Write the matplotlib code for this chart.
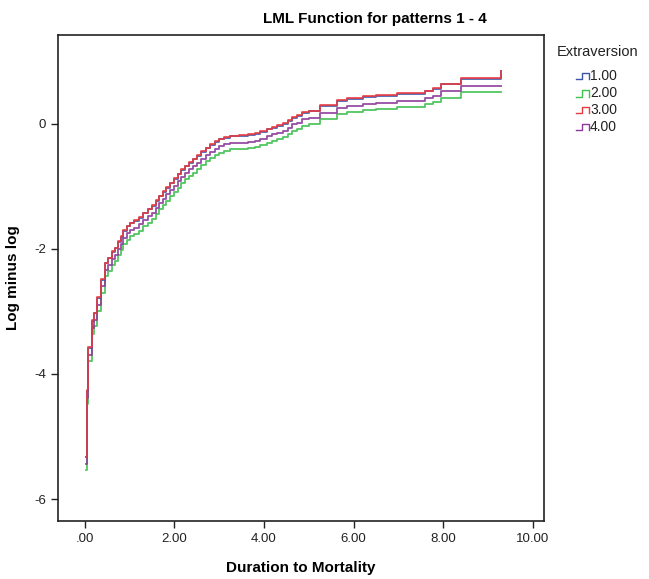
import matplotlib
matplotlib.use("Agg")
import matplotlib.pyplot as plt
from matplotlib.lines import Line2D

plt.rcParams['font.family'] = ['Liberation Sans', 'DejaVu Sans']

# step times (duration to mortality)
times = [0.02, 0.05, 0.08, 0.15, 0.21, 0.28, 0.37, 0.45,
         0.52, 0.60, 0.67, 0.74, 0.80, 0.86, 0.93, 1.00,
         1.10, 1.20, 1.30, 1.40, 1.49, 1.58, 1.66, 1.74,
         1.82, 1.90, 1.98, 2.07, 2.15, 2.23, 2.32, 2.41,
         2.50, 2.60, 2.70, 2.80, 2.90, 3.00, 3.10, 3.25,
         3.45, 3.65, 3.80, 3.92, 4.06, 4.18, 4.30, 4.43,
         4.53, 4.63, 4.73, 4.85, 5.00, 5.25, 5.63, 5.85,
         6.20, 6.50, 6.96, 7.60, 7.77, 7.95, 8.39, 9.29]

lml_1 = [-5.33, -4.27, -3.58, -3.15, -3.03, -2.78, -2.49, -2.23,
         -2.15, -2.05, -1.99, -1.89, -1.81, -1.71, -1.64, -1.59,
         -1.55, -1.50, -1.43, -1.37, -1.31, -1.23, -1.16, -1.09,
         -1.02, -0.95, -0.88, -0.81, -0.74, -0.68, -0.62, -0.57,
         -0.51, -0.45, -0.39, -0.34, -0.29, -0.25, -0.22, -0.20,
         -0.19, -0.18, -0.16, -0.13, -0.09, -0.06, -0.03, 0.00,
         0.05, 0.10, 0.13, 0.18, 0.20, 0.29, 0.37, 0.40,
         0.43, 0.45, 0.48, 0.52, 0.56, 0.63, 0.72, 0.84]
lml_2 = [-5.54, -4.48, -3.79, -3.36, -3.24, -2.99, -2.70, -2.44,
         -2.36, -2.26, -2.20, -2.10, -2.02, -1.92, -1.85, -1.80,
         -1.76, -1.71, -1.64, -1.58, -1.52, -1.44, -1.37, -1.30,
         -1.23, -1.16, -1.09, -1.02, -0.95, -0.89, -0.83, -0.78,
         -0.72, -0.66, -0.60, -0.55, -0.50, -0.46, -0.43, -0.41,
         -0.40, -0.39, -0.37, -0.34, -0.30, -0.27, -0.24, -0.21,
         -0.16, -0.11, -0.08, -0.03, -0.01, 0.08, 0.16, 0.19,
         0.22, 0.24, 0.27, 0.31, 0.35, 0.42, 0.51, 0.51]
lml_3 = [-5.32, -4.26, -3.57, -3.14, -3.02, -2.77, -2.48, -2.22,
         -2.14, -2.04, -1.98, -1.88, -1.80, -1.70, -1.63, -1.58,
         -1.54, -1.49, -1.42, -1.36, -1.30, -1.22, -1.15, -1.08,
         -1.01, -0.94, -0.87, -0.80, -0.73, -0.67, -0.61, -0.56,
         -0.50, -0.44, -0.38, -0.33, -0.28, -0.24, -0.21, -0.19,
         -0.18, -0.17, -0.15, -0.12, -0.08, -0.05, -0.02, 0.01,
         0.06, 0.11, 0.14, 0.19, 0.21, 0.30, 0.38, 0.41,
         0.44, 0.46, 0.49, 0.53, 0.57, 0.64, 0.73, 0.85]
lml_4 = [-5.44, -4.38, -3.69, -3.26, -3.14, -2.89, -2.60, -2.34,
         -2.26, -2.16, -2.10, -2.00, -1.92, -1.82, -1.75, -1.70,
         -1.66, -1.61, -1.54, -1.48, -1.42, -1.34, -1.27, -1.20,
         -1.13, -1.06, -0.99, -0.92, -0.85, -0.79, -0.73, -0.68,
         -0.62, -0.56, -0.50, -0.45, -0.40, -0.36, -0.33, -0.31,
         -0.30, -0.29, -0.27, -0.24, -0.20, -0.17, -0.14, -0.11,
         -0.06, -0.01, 0.02, 0.07, 0.09, 0.18, 0.26, 0.29,
         0.32, 0.34, 0.37, 0.41, 0.45, 0.52, 0.61, 0.61]

group_labels = ["1.00", "2.00", "3.00", "4.00"]
x_ticks = [0, 2, 4, 6, 8, 10]
x_tick_labels = [".00", "2.00", "4.00", "6.00", "8.00", "10.00"]
y_ticks = [-6, -4, -2, 0]
y_tick_labels = ["-6", "-4", "-2", "0"]

colors = ["#3b54a8", "#3fc04f", "#e83a3f", "#8b3a9a"]
series = [lml_1, lml_2, lml_3, lml_4]

fig = plt.figure(figsize=(6.49, 5.79), dpi=100)
ax = fig.add_axes([0.0894, 0.1002, 0.7488, 0.8394])

# red drawn last so it sits over blue, like the original
order = [1, 3, 0, 2]
for i in order:
    ax.step(times, series[i], where="post", color=colors[i], lw=1.3, alpha=0.9)

ax.set_xlim(-0.6, 10.25)
ax.set_ylim(-6.35, 1.42)
ax.set_xticks(x_ticks)
ax.set_xticklabels(x_tick_labels)
ax.set_yticks(y_ticks)
ax.set_yticklabels(y_tick_labels)
ax.tick_params(direction="out", length=5, width=1, labelsize=9.5, colors="#222222")
for sp in ax.spines.values():
    sp.set_linewidth(1.2)
    sp.set_color("#222222")

ax.set_xlabel("Duration to Mortality", fontsize=11, fontweight="bold", labelpad=12)
ax.set_ylabel("Log minus log", fontsize=11, fontweight="bold", labelpad=10)
fig.text(0.578, 0.968, "LML Function for patterns 1 - 4", ha="center", va="center",
         fontsize=11, fontweight="bold")

# legend drawn by hand with step-shaped glyphs
fig.text(557 / 649, 1 - 52 / 579, "Extraversion", fontsize=10.5, va="center", ha="left",
         color="#222222")
for k, lab in enumerate(group_labels):
    yc = 1 - (76 + 17 * k) / 579
    lo = yc - 3.5 / 579
    hi = yc + 3.5 / 579
    xs = [576 / 649, 582 / 649, 582 / 649, 589 / 649, 589 / 649]
    ys = [lo, lo, hi, hi, lo]
    fig.add_artist(Line2D(xs, ys, color=colors[k], lw=1.0, transform=fig.transFigure))
    fig.text(590 / 649, yc, lab, fontsize=10, va="center", ha="left", color="#222222")

fig.savefig("out.png", dpi=100)
